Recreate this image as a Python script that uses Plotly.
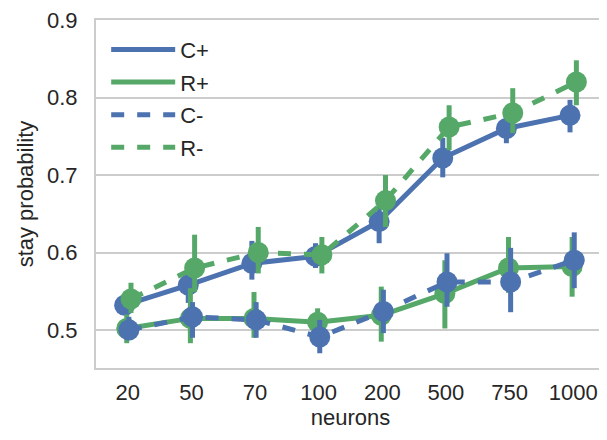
import plotly.graph_objects as go

categories = ["20", "50", "70", "100", "200", "500", "750", "1000"]

series_names = ["C+", "R+", "C-", "R-"]
c_plus = [0.532, 0.558, 0.586, 0.595, 0.640, 0.722, 0.760, 0.777]
r_plus = [0.502, 0.515, 0.515, 0.510, 0.519, 0.547, 0.580, 0.582]
c_minus = [0.500, 0.517, 0.513, 0.491, 0.524, 0.562, 0.562, 0.590]
r_minus = [0.540, 0.580, 0.600, 0.597, 0.667, 0.762, 0.780, 0.820]

c_plus_lo = [0.520, 0.535, 0.565, 0.580, 0.612, 0.697, 0.741, 0.755]
c_plus_hi = [0.545, 0.580, 0.615, 0.612, 0.660, 0.748, 0.775, 0.797]
r_plus_lo = [0.483, 0.483, 0.490, 0.500, 0.485, 0.502, 0.548, 0.543]
r_plus_hi = [0.520, 0.554, 0.549, 0.528, 0.556, 0.590, 0.620, 0.620]
c_minus_lo = [0.487, 0.490, 0.490, 0.470, 0.496, 0.530, 0.523, 0.554]
c_minus_hi = [0.517, 0.536, 0.536, 0.513, 0.552, 0.599, 0.606, 0.626]
r_minus_lo = [0.522, 0.549, 0.573, 0.573, 0.633, 0.732, 0.754, 0.790]
r_minus_hi = [0.561, 0.623, 0.633, 0.620, 0.700, 0.790, 0.812, 0.848]

BLUE = "#4C72B0"
GREEN = "#55A868"
TEXT = "#262626"
GRID = "#cccccc"
FONT = "Liberation Sans, Arial, sans-serif"
FS = 22

specs = [
    ("C+", c_plus, c_plus_lo, c_plus_hi, BLUE, "solid", -0.05),
    ("R+", r_plus, r_plus_lo, r_plus_hi, GREEN, "solid", -0.0167),
    ("C-", c_minus, c_minus_lo, c_minus_hi, BLUE, "13px,13px", 0.0167),
    ("R-", r_minus, r_minus_lo, r_minus_hi, GREEN, "13px,13px", 0.05),
]

fig = go.Figure()
for name, vals, lo, hi, color, dash, off in specs:
    xs = [i + off for i in range(len(categories))]
    fig.add_trace(go.Scatter(
        x=xs, y=vals, mode="lines+markers", name=name, showlegend=False,
        line=dict(color=color, width=5, dash=dash),
        marker=dict(color=color, size=21, line=dict(width=0)),
        error_y=dict(type="data", symmetric=False,
                     array=[h - v for h, v in zip(hi, vals)],
                     arrayminus=[v - l for l, v in zip(lo, vals)],
                     color=color, thickness=5, width=0),
    ))

for name, vals, lo, hi, color, dash, off in specs:
    fig.add_trace(go.Scatter(
        x=[None], y=[None], mode="lines", name=name, showlegend=True,
        legendgroup=name,
        line=dict(color=color, width=5, dash=dash),
    ))

# page body has an 8px default margin, so the figure is 8px smaller
fig.update_layout(
    width=599, height=432,
    margin=dict(l=88, r=2, t=12, b=72),
    paper_bgcolor="white", plot_bgcolor="white",
    font=dict(family=FONT, size=FS, color=TEXT),
    legend=dict(x=0.02, y=0.975, xanchor="left", yanchor="top",
                bgcolor="rgba(0,0,0,0)", font=dict(size=FS, color=TEXT),
                tracegroupgap=1, itemwidth=64),
    xaxis=dict(
        range=[-0.5, 7.5], tickmode="array",
        tickvals=list(range(len(categories))), ticktext=categories,
        showgrid=False, zeroline=False, automargin=False,
        showline=True, linecolor=GRID, linewidth=2, mirror=True,
        ticks="", ticklabelstandoff=4, ticklabeloverflow="allow",
        tickfont=dict(size=FS, color=TEXT),
        title=dict(text="neurons", font=dict(size=FS, color=TEXT), standoff=2),
    ),
    yaxis=dict(
        range=[0.451, 0.9], tickmode="array",
        tickvals=[0.5, 0.6, 0.7, 0.8, 0.9],
        ticktext=["0.5", "0.6", "0.7", "0.8", "0.9"],
        showgrid=True, gridcolor=GRID, gridwidth=2, zeroline=False, automargin=False,
        showline=True, linecolor=GRID, linewidth=2, mirror=True,
        ticks="", ticklabelstandoff=12, ticklabeloverflow="allow",
        tickfont=dict(size=FS, color=TEXT),
        title=dict(text="stay probability", font=dict(size=FS, color=TEXT), standoff=7),
    ),
)

fig.write_html("out.html")
